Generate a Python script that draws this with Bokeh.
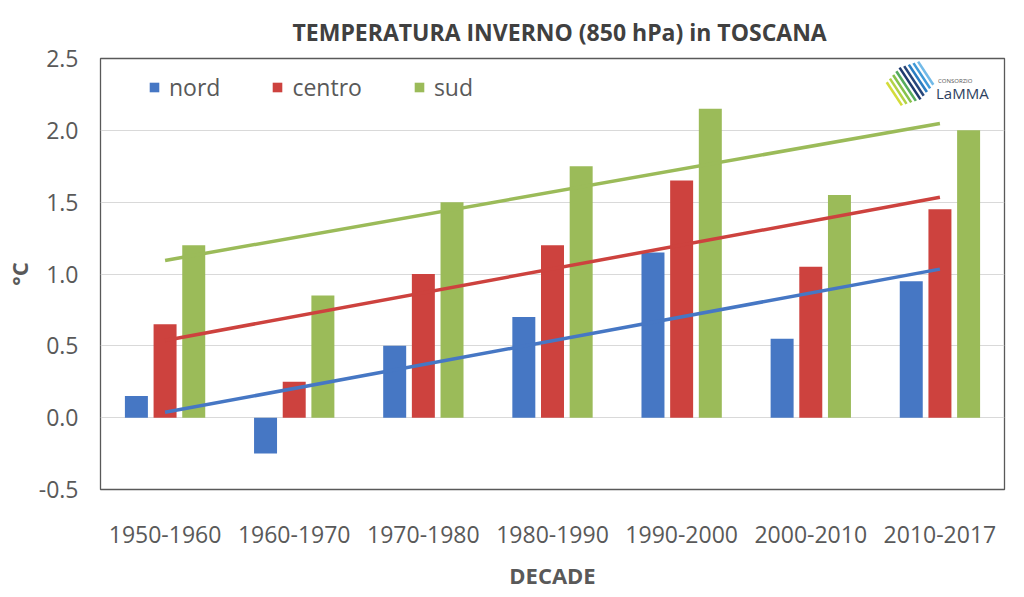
import numpy as np
from bokeh.plotting import figure
from bokeh.models import (FactorRange, Range1d, Legend, LegendItem, Label,
                          ColumnDataSource, FixedTicker)
from bokeh.transform import dodge
from bokeh.embed import file_html
from bokeh.resources import INLINE

# ---------------- data ----------------
decades = ["1950-1960", "1960-1970", "1970-1980", "1980-1990",
           "1990-2000", "2000-2010", "2010-2017"]
nord = [0.15, -0.25, 0.50, 0.70, 1.15, 0.55, 0.95]
centro = [0.65, 0.25, 1.00, 1.20, 1.65, 1.05, 1.45]
sud = [1.20, 0.85, 1.50, 1.75, 2.15, 1.55, 2.00]
series_names = ["nord", "centro", "sud"]
y_ticks = [-0.5, 0.0, 0.5, 1.0, 1.5, 2.0, 2.5]
y_tick_labels = ["-0.5", "0.0", "0.5", "1.0", "1.5", "2.0", "2.5"]
title_text = "TEMPERATURA INVERNO (850 hPa) in TOSCANA"
x_label = "DECADE"
y_label = "°C"

# ---------------- style ----------------
colors = ["#4677C4", "#CD423E", "#9BBB59"]
offsets = [-0.222, 0.0, 0.222]
bar_w = 0.178
FONT = "Open Sans"
TXT = "#595959"

src = ColumnDataSource(dict(decade=decades, nord=nord, centro=centro, sud=sud))

p = figure(x_range=FactorRange(*decades), y_range=Range1d(-0.5, 2.5),
           frame_width=904, frame_height=431,
           min_border_left=97, min_border_right=7,
           min_border_top=58, min_border_bottom=99,
           output_backend="svg", toolbar_location=None)

p.title.text = title_text
p.title.align = "left"
p.title.text_font = FONT
p.title.text_font_style = "bold"
p.title.text_font_size = "23px"
p.title.text_color = "#404040"
p.title.standoff = 22
p.title.offset = 192

renderers = []
for name, col, off in zip(series_names, colors, offsets):
    r = p.vbar(x=dodge("decade", off, range=p.x_range), top=name, bottom=0,
               width=bar_w, source=src, fill_color=col, line_color=None)
    renderers.append(r)

# linear trend lines (least-squares fit over decade index)
idx = np.arange(len(decades))
for vals, col in zip([nord, centro, sud], colors):
    slope, icpt = np.polyfit(idx, np.array(vals), 1)
    p.line(x=[decades[0], decades[-1]],
           y=[icpt + slope * idx[0], icpt + slope * idx[-1]],
           line_color=col, line_width=3.5)

legend = Legend(items=[LegendItem(label=n, renderers=[r])
                       for n, r in zip(series_names, renderers)],
                orientation="horizontal", location=(48, 386),
                glyph_width=12, glyph_height=12, label_standoff=9,
                spacing=51, padding=0, margin=0,
                background_fill_alpha=0, border_line_color=None,
                label_text_font=FONT, label_text_font_size="23px",
                label_text_color=TXT)
p.add_layout(legend, "center")

# axes
p.yaxis.ticker = FixedTicker(ticks=y_ticks)
p.yaxis.major_label_overrides = {t: l for t, l in zip(y_ticks, y_tick_labels)}
p.axis.axis_line_color = None
p.axis.major_tick_line_color = None
p.axis.minor_tick_line_color = None
p.axis.major_label_text_font = FONT
p.axis.major_label_text_font_size = "23px"
p.axis.major_label_text_color = TXT
p.yaxis.major_label_standoff = 16
p.xaxis.major_label_standoff = 30
p.xaxis.axis_label = x_label
p.yaxis.axis_label = y_label
p.axis.axis_label_text_font = FONT
p.axis.axis_label_text_font_style = "bold"
p.axis.axis_label_text_font_size = "22px"
p.axis.axis_label_text_color = TXT
p.yaxis.axis_label_standoff = 2
p.xaxis.axis_label_standoff = 14

p.xgrid.grid_line_color = None
p.ygrid.grid_line_color = "#D9D9D9"
p.ygrid.grid_line_width = 1
p.outline_line_color = "#595959"
p.outline_line_width = 1.3
p.background_fill_color = "white"
p.border_fill_color = "white"

# ---------------- logo (decoration) ----------------
def sx(px):  # page pixel -> synthetic x
    return (px - 102.5) / 129.14

def sy(py):  # page pixel -> data y
    return 2.5 - (py - 59) / 143.67

logo_colors = ["#D4DC3A", "#B2D246", "#86C24C", "#55AB5C", "#1F3A6E",
               "#27467A", "#2B7EC2", "#3F9AD8", "#72BAE8"]
d = np.array([0.55, 0.835])
n = np.array([0.835, -0.55])
c = np.array([912.0, 84.0])
xs, ys = [], []
for k in range(len(logo_colors)):
    half = 19 - 1.3 * abs(k - 4)
    mid = c + (k - 4) * 4.7 * n
    a = mid - half * d
    b = mid + half * d
    xs.append([sx(a[0]), sx(b[0])])
    ys.append([sy(a[1]), sy(b[1])])
p.multi_line(xs=xs, ys=ys, line_color=logo_colors, line_width=2.6)
p.add_layout(Label(x=sx(940), y=sy(86), text="CONSORZIO", text_font=FONT,
                   text_font_size="6px", text_color="#555555"))
p.add_layout(Label(x=sx(938), y=sy(104), text="LaMMA", text_font=FONT,
                   text_font_size="15px", text_color="#2D3F5E"))

open("out.html", "w").write(file_html(p, INLINE))
